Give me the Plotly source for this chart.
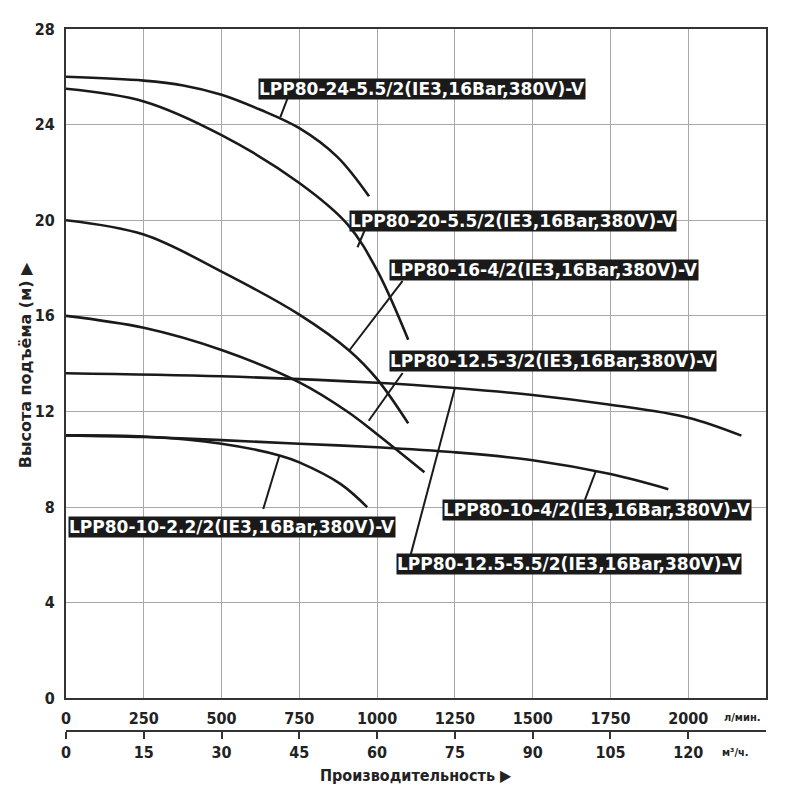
"""Pump head curves for the LPP80 series: head (m) against flow (l/min, m3/h)."""

import plotly.graph_objects as go

# --- data -------------------------------------------------------------------
# flow in l/min, head in m
x_24_55 = [0, 250, 377, 500, 625, 750, 872, 974]
y_24_55 = [26.0, 25.84, 25.64, 25.25, 24.62, 23.85, 22.65, 21.0]

x_20_55 = [0, 250, 500, 750, 905, 1000, 1100]
y_20_55 = [25.5, 24.97, 23.56, 21.56, 19.83, 17.9, 15.0]

x_16_4 = [0, 250, 500, 750, 912, 1000, 1100]
y_16_4 = [20.0, 19.4, 17.85, 16.05, 14.53, 13.35, 11.5]

x_125_55 = [0, 250, 500, 750, 904, 1000, 1152]
y_125_55 = [16.0, 15.5, 14.57, 13.22, 12.0, 11.05, 9.46]

x_125_3 = [0, 500, 1000, 1250, 1500, 1750, 2000, 2171]
y_125_3 = [13.6, 13.47, 13.2, 12.98, 12.69, 12.28, 11.74, 10.99]

x_10_4 = [0, 250, 500, 750, 1000, 1250, 1500, 1750, 1936]
y_10_4 = [11.0, 10.93, 10.8, 10.65, 10.5, 10.29, 9.96, 9.38, 8.75]

x_10_22 = [0, 250, 500, 689, 750, 882, 968]
y_10_22 = [11.0, 10.95, 10.65, 10.15, 9.87, 8.97, 8.0]

curves = [
	(x_24_55, y_24_55), (x_20_55, y_20_55), (x_16_4, y_16_4),
	(x_125_55, y_125_55), (x_125_3, y_125_3), (x_10_4, y_10_4),
	(x_10_22, y_10_22),
]

label_texts = [
	'LPP80-24-5.5/2(IE3,16Bar,380V)-V',
	'LPP80-20-5.5/2(IE3,16Bar,380V)-V',
	'LPP80-16-4/2(IE3,16Bar,380V)-V',
	'LPP80-12.5-3/2(IE3,16Bar,380V)-V',
	'LPP80-10-4/2(IE3,16Bar,380V)-V',
	'LPP80-12.5-5.5/2(IE3,16Bar,380V)-V',
	'LPP80-10-2.2/2(IE3,16Bar,380V)-V',
]
label_x = [1143, 1436, 1536, 1565, 1707, 1617, 535]
label_y = [25.51, 19.95, 17.92, 14.10, 7.88, 5.60, 7.18]
# leader lines: box edge -> curve
leader_x0 = [712, 960, 1082, 1082, 1668, 1108, 634]
leader_y0 = [25.1, 19.58, 17.46, 13.61, 8.30, 6.01, 7.92]
leader_x1 = [689, 937, 911, 973, 1704, 1250, 686]
leader_y1 = [24.31, 18.87, 14.56, 11.61, 9.54, 12.98, 10.16]

flow_lmin_ticks = [0, 250, 500, 750, 1000, 1250, 1500, 1750, 2000]
flow_m3h_ticks = [0, 15, 30, 45, 60, 75, 90, 105, 120]
head_ticks = [0, 4, 8, 12, 16, 20, 24, 28]

# --- figure -----------------------------------------------------------------
DARK = '#222222'
TICK_FONT = dict(family='DejaVu Sans Condensed', size=16, color=DARK)
UNIT_FONT = dict(family='DejaVu Sans Condensed', size=11, color=DARK)

fig = go.Figure()
for xs, ys in curves:
	fig.add_trace(go.Scatter(
		x=xs, y=ys, mode='lines',
		line=dict(color='#1a1a1a', width=2.6, shape='spline', smoothing=1.0),
		showlegend=False, hoverinfo='skip',
	))
# invisible trace so the m3/h axis is drawn
fig.add_trace(go.Scatter(x=[0, 120], y=[0, 0], xaxis='x2', yaxis='y',
	mode='lines', line=dict(width=0), showlegend=False, hoverinfo='skip'))

for x0, y0, x1, y1 in zip(leader_x0, leader_y0, leader_x1, leader_y1):
	fig.add_shape(type='line', x0=x0, y0=y0, x1=x1, y1=y1,
		xref='x', yref='y', line=dict(color='#1a1a1a', width=2))

for text, lx, ly in zip(label_texts, label_x, label_y):
	fig.add_annotation(
		x=lx, y=ly, xref='x', yref='y', text=f'<b>{text}</b>',
		showarrow=False, bgcolor='#1a1a1a', borderpad=0,
		xanchor='center', yanchor='middle',
		font=dict(family='DejaVu Sans', size=17, color='white'),
	)

# axis titles and unit labels
fig.add_annotation(
	x=-0.0586, y=0.521, xref='paper', yref='paper',
	xanchor='center', yanchor='middle',
	text='<b>Высота подъёма (м) ▶</b>', textangle=-90, showarrow=False,
	font=dict(family='DejaVu Sans', size=16, color=DARK),
)
fig.add_annotation(
	x=0.50, y=-0.0636, xref='paper', yref='paper',
	xanchor='center', yanchor='middle',
	text='<b>Производительность ▶</b>', showarrow=False,
	font=dict(family='DejaVu Sans Condensed', size=16, color=DARK),
)
fig.add_annotation(
	x=0.967, y=0.0198, xref='paper', yref='paper', text='<b>л/мин.</b>',
	xanchor='center', yanchor='middle', showarrow=False, font=UNIT_FONT,
)
fig.add_annotation(
	x=0.956, y=-0.031, xref='paper', yref='paper', text='<b>м³/ч.</b>',
	xanchor='center', yanchor='middle', showarrow=False, font=UNIT_FONT,
)

# the page body adds 8px, so margins are trimmed by that much on top/left
fig.update_layout(
	width=800, height=800,
	margin=dict(l=58, r=42, t=15, b=77),
	plot_bgcolor='white', paper_bgcolor='white',
	xaxis=dict(
		range=[0, 2250], tickvals=flow_lmin_ticks,
		ticktext=[f'<b>{v}</b>' for v in flow_lmin_ticks],
		anchor='y', showgrid=True, gridcolor='#a8a8a8', gridwidth=1.2,
		showline=True, mirror=True, linecolor='#333333', linewidth=2,
		ticks='outside', ticklen=5, tickcolor='rgba(0,0,0,0)',
		tickfont=TICK_FONT, zeroline=False,
	),
	xaxis2=dict(
		range=[0, 135], tickvals=flow_m3h_ticks,
		ticktext=[f'<b>{v}</b>' for v in flow_m3h_ticks],
		overlaying='x', anchor='free', position=0, side='bottom',
		showgrid=False, showline=True, linecolor='#333333', linewidth=2,
		ticks='outside', ticklen=7, tickwidth=2, tickcolor='#333333',
		tickfont=TICK_FONT, zeroline=False,
	),
	yaxis=dict(
		range=[0, 28], tickvals=head_ticks,
		ticktext=[f'<b>{v}</b>' for v in head_ticks],
		domain=[0.0466, 1], showgrid=True, gridcolor='#a8a8a8', gridwidth=1.2,
		showline=True, mirror=True, linecolor='#333333', linewidth=2,
		ticks='outside', ticklen=6, tickcolor='rgba(0,0,0,0)',
		tickfont=TICK_FONT, zeroline=False,
	),
)

fig.write_html('out.html')
